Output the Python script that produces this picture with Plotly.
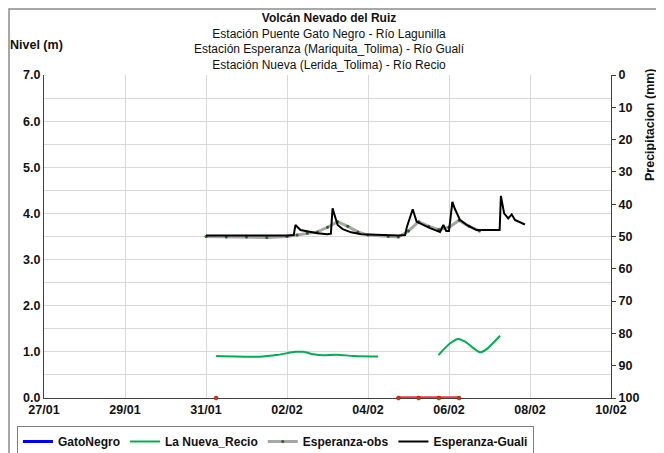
import plotly.graph_objects as go

# Esperanza-Guali (black)
guali_t = ["2024-01-31 00:00", "2024-01-31 12:00", "2024-02-01 00:00", "2024-02-01 12:00",
           "2024-02-02 00:00", "2024-02-02 04:00", "2024-02-02 05:00", "2024-02-02 08:00",
           "2024-02-02 12:00", "2024-02-02 18:00", "2024-02-03 00:00", "2024-02-03 02:00",
           "2024-02-03 03:00", "2024-02-03 06:00", "2024-02-03 09:00", "2024-02-03 14:00",
           "2024-02-03 20:00", "2024-02-04 06:00", "2024-02-04 18:00", "2024-02-04 22:00",
           "2024-02-04 23:00", "2024-02-05 02:30", "2024-02-05 04:50", "2024-02-05 07:50",
           "2024-02-05 12:45", "2024-02-05 18:40", "2024-02-05 20:40", "2024-02-05 22:20",
           "2024-02-06 00:00", "2024-02-06 02:00", "2024-02-06 03:35", "2024-02-06 06:30",
           "2024-02-06 10:30", "2024-02-06 16:20", "2024-02-07 05:10", "2024-02-07 06:00",
           "2024-02-07 06:45", "2024-02-07 08:40", "2024-02-07 11:05", "2024-02-07 13:10",
           "2024-02-07 15:05", "2024-02-07 18:00", "2024-02-07 21:00"]
guali_v = [3.52, 3.52, 3.51, 3.52,
           3.52, 3.53, 3.75, 3.64,
           3.61, 3.57, 3.55, 3.56,
           4.11, 3.75, 3.66, 3.59,
           3.55, 3.53, 3.52, 3.53,
           3.70, 4.09, 3.82, 3.77,
           3.68, 3.60, 3.75, 3.62,
           3.62, 4.25, 4.09, 3.86,
           3.75, 3.64, 3.63, 3.64,
           4.38, 4.00, 3.89, 3.98,
           3.86, 3.81, 3.76]

# Esperanza-obs (gray)
obs_t = ["2024-01-31 00:00", "2024-01-31 12:00", "2024-02-01 00:00", "2024-02-01 12:00",
         "2024-02-02 00:00", "2024-02-02 06:00", "2024-02-02 12:00", "2024-02-02 18:00",
         "2024-02-03 00:00", "2024-02-03 06:00", "2024-02-03 12:00", "2024-02-03 18:00",
         "2024-02-04 00:00", "2024-02-04 12:00", "2024-02-04 18:00", "2024-02-05 00:00",
         "2024-02-05 06:00", "2024-02-05 12:00", "2024-02-05 18:00", "2024-02-06 00:00",
         "2024-02-06 06:00", "2024-02-06 12:00", "2024-02-06 18:00"]
obs_v = [3.50, 3.49, 3.49, 3.48,
         3.50, 3.53, 3.57, 3.60,
         3.70, 3.82, 3.72, 3.60,
         3.53, 3.50, 3.49, 3.62,
         3.82, 3.72, 3.65, 3.70,
         3.85, 3.72, 3.62]

# La Nueva_Recio (green)
recio_t = ["2024-01-31 06:00", "2024-02-01 08:00", "2024-02-01 18:00", "2024-02-02 04:50",
           "2024-02-02 09:40", "2024-02-02 15:40", "2024-02-02 21:30", "2024-02-03 05:30",
           "2024-02-03 15:20", "2024-02-04 06:00", "2024-02-05 00:00",
           "2024-02-05 17:45", "2024-02-06 00:30", "2024-02-06 05:30", "2024-02-06 09:35",
           "2024-02-06 14:30", "2024-02-06 18:30", "2024-02-06 22:20", "2024-02-07 06:15"]
recio_v = [0.91, 0.895, 0.93, 1.0,
           1.0, 0.95, 0.925, 0.94,
           0.91, 0.90, None,
           0.93, 1.18, 1.28, 1.22,
           1.08, 0.99, 1.06, 1.35]

# GatoNegro (blue) - sin datos en el periodo
gato_t = ["2024-01-31 00:00"]
gato_v = [None]

# serie roja en cero
rojo_t = ["2024-01-31 06:00", "2024-02-02 00:00", "2024-02-04 18:00", "2024-02-05 06:00",
          "2024-02-05 18:00", "2024-02-06 06:00"]
rojo_v = [0, None, 0, 0, 0, 0]

x_ticks = ["2024-01-27", "2024-01-29", "2024-01-31", "2024-02-02",
           "2024-02-04", "2024-02-06", "2024-02-08", "2024-02-10"]
x_labels = ["27/01", "29/01", "31/01", "02/02", "04/02", "06/02", "08/02", "10/02"]

# la pagina tiene un margen de 8 px: la figura se corre 8 px a la derecha y abajo
fuente = "Liberation Sans, Arial, sans-serif"
negrita = dict(family=fuente, size=12.5, color="#111111", weight="bold")
ancho, alto = 656, 445
pw, ph = 567, 323

fig = go.Figure()
fig.add_trace(go.Scatter(x=gato_t, y=gato_v, mode="lines", name="GatoNegro",
                         line=dict(color="#0000ff", width=3)))
fig.add_trace(go.Scatter(x=recio_t, y=recio_v, mode="lines", name="La Nueva_Recio",
                         line=dict(color="#00b050", width=2, shape="spline", smoothing=0.6),
                         connectgaps=False))
fig.add_trace(go.Scatter(x=obs_t, y=obs_v, mode="lines+markers", name="Esperanza-obs",
                         line=dict(color="#a6a6a6", width=3),
                         marker=dict(color="#1e6b1e", size=3)))
fig.add_trace(go.Scatter(x=guali_t, y=guali_v, mode="lines", name="Esperanza-Guali",
                         line=dict(color="#000000", width=2)))
fig.add_trace(go.Scatter(x=rojo_t, y=rojo_v, mode="lines+markers", showlegend=False,
                         line=dict(color="#ff3333", width=3.5),
                         marker=dict(color="#e02818", size=4,
                                     line=dict(color="#5a3a10", width=0.5)),
                         cliponaxis=False))
fig.add_trace(go.Scatter(x=["2024-01-27"], y=[None], yaxis="y2", showlegend=False,
                         hoverinfo="skip"))

fig.update_layout(
    width=ancho, height=alto, autosize=False,
    margin=dict(l=36, r=ancho - 36 - pw, t=67, b=alto - 67 - ph),
    paper_bgcolor="white", plot_bgcolor="white",
    font=dict(family=fuente, size=12, color="#111111"),
    showlegend=True,
    legend=dict(orientation="h", xref="container", yref="container",
                x=9 / ancho, y=27 / alto, xanchor="left", yanchor="top",
                font=dict(family=fuente, size=12, color="#111111", weight="bold"),
                bordercolor="#7f7f7f", borderwidth=1,
                itemwidth=30, entrywidth=0, tracegroupgap=0),
    xaxis=dict(type="date", range=["2024-01-27", "2024-02-10"],
               tickvals=x_ticks, ticktext=x_labels, tickfont=negrita,
               showgrid=True, gridcolor="#d9d9d9", gridwidth=1,
               showline=True, linecolor="#404040", linewidth=1, layer="below traces",
               ticks="", zeroline=False, automargin=False),
    yaxis=dict(range=[0, 7], tickvals=[0, 1, 2, 3, 4, 5, 6, 7],
               ticktext=["0.0", "1.0", "2.0", "3.0", "4.0", "5.0", "6.0", "7.0"],
               tickfont=negrita, showgrid=True, gridcolor="#d9d9d9",
               minor=dict(dtick=0.5, showgrid=True, gridcolor="#d9d9d9"),
               showline=True, linecolor="#404040", linewidth=1,
               ticks="", zeroline=False, automargin=False),
    yaxis2=dict(range=[100, 0], dtick=10, overlaying="y", side="right",
                tickfont=negrita, showgrid=False, zeroline=False,
                showline=True, linecolor="#404040", linewidth=1,
                ticks="outside", ticklen=4, tickcolor="#404040", automargin=False),
    shapes=[dict(type="rect", xref="paper", yref="paper",
                 x0=-35 / pw, x1=1 + 49 / pw, y0=-70 / ph, y1=1 + 66 / ph,
                 line=dict(color="#8c8c8c", width=1.5), layer="below")],
    annotations=[
        dict(text="<b>Volcán Nevado del Ruiz</b><br>Estación Puente Gato Negro - Río Lagunilla"
                  "<br>Estación Esperanza (Mariquita_Tolima) - Río Gualí"
                  "<br>Estación Nueva (Lerida_Tolima) - Río Recio",
             xref="paper", yref="paper", x=0.503, y=1 + 66 / ph, xanchor="center", yanchor="top",
             showarrow=False, font=dict(family=fuente, size=12, color="#111111")),
        dict(text="<b>Nivel (m)</b>", xref="paper", yref="paper", x=-36 / pw, y=1 + 30 / ph,
             xanchor="left", yanchor="middle", showarrow=False,
             font=dict(family=fuente, size=12.5, color="#111111")),
        dict(text="<b>Precipitacion (mm)</b>", xref="paper", yref="paper", x=1 + 39 / pw,
             y=1 - 50 / ph, xanchor="center", yanchor="middle", textangle=-90, showarrow=False,
             font=dict(family=fuente, size=12.5, color="#111111")),
    ],
)

fig.write_html("out.html")
